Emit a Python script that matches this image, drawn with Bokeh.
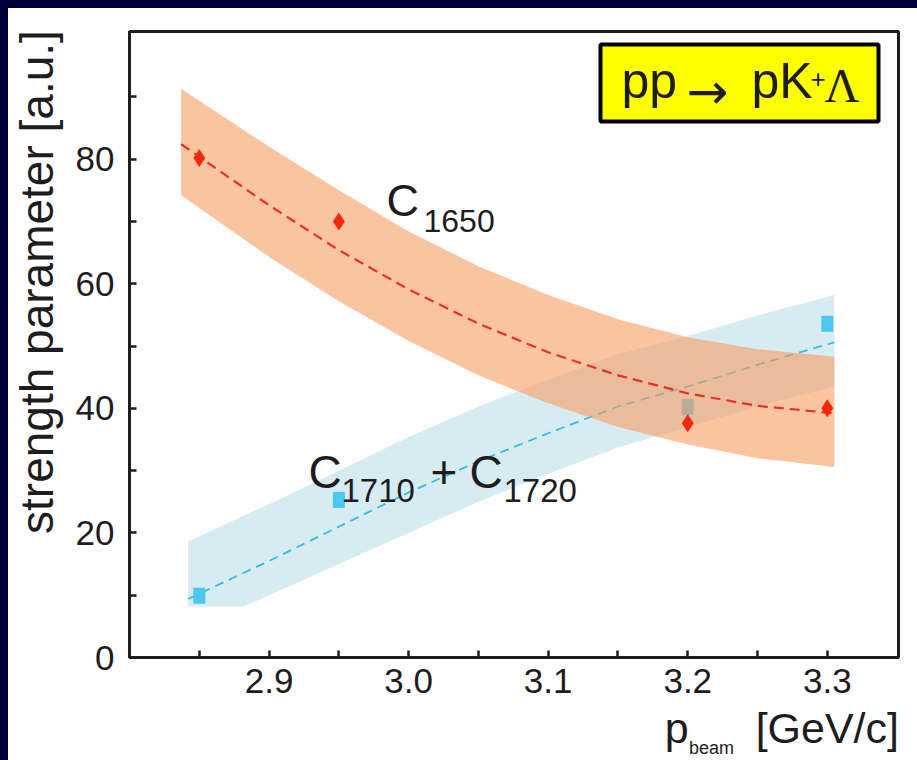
from bokeh.plotting import figure
from bokeh.models import (FixedTicker, Label, BoxAnnotation, Range1d, NumeralTickFormatter,
                          LinearAxis, GlobalInlineStyleSheet)
from bokeh.embed import file_html
from bokeh.resources import INLINE

# measured strength parameters at each beam momentum [GeV/c]
p_beam = [2.85, 2.95, 3.20, 3.30]
c1650 = [80.2, 70.0, 37.6, 40.0]
c1710_1720 = [9.9, 25.3, 40.2, 53.6]

# C1650 trend curve with its uncertainty band
c1650_x = [2.837, 2.90, 2.95, 3.00, 3.05, 3.10, 3.15, 3.20, 3.25, 3.305]
c1650_fit = [82.4, 72.6, 65.4, 59.1, 53.6, 49.0, 45.3, 42.4, 40.4, 39.2]
c1650_hi = [91.3, 82.0, 75.0, 68.4, 62.8, 58.2, 54.3, 51.4, 49.5, 48.3]
c1650_lo = [74.2, 64.3, 57.2, 50.8, 45.3, 40.8, 37.0, 34.2, 32.0, 30.6]

# C1710 + C1720 trend curve with its uncertainty band
c17_x = [2.842, 2.882, 2.90, 2.95, 3.00, 3.05, 3.10, 3.15, 3.20, 3.25, 3.305]
c17_fit = [9.4, 13.6, 15.5, 21.0, 26.5, 31.5, 36.0, 40.3, 43.5, 47.0, 50.6]
c17_hi = [18.6, 22.8, 24.6, 30.0, 35.4, 40.3, 44.6, 48.7, 51.6, 54.9, 58.2]
c17_lo = [8.2, 8.2, 10.0, 15.0, 20.0, 25.0, 29.5, 33.7, 37.0, 40.3, 43.5]

x_ticks = [2.9, 3.0, 3.1, 3.2, 3.3]
x_minor = [2.85, 2.95, 3.05, 3.15, 3.25]
y_ticks = [0, 20, 40, 60, 80]
y_minor = [10, 30, 50, 70, 90]

# axis titles, hung on single-tick helper axes (value = where the text is centred)
y_title = {61.3: "strength parameter  [a.u.]"}
x_title = {3.192: "p", 3.3: "[GeV/c]"}
x_title_sub = {3.217: "beam"}

INK = "#1e1c1d"
SANS = "Liberation Sans"
NAVY = "#00003a"

p = figure(width=909, height=752, output_backend="svg", toolbar_location=None,
           x_range=Range1d(2.80, 3.351), y_range=Range1d(0, 100.5),
           min_border_left=121, min_border_right=19, min_border_top=23, min_border_bottom=101,
           background_fill_color="white", border_fill_color="white")
# white page with a dark slide edge along its left and top
p.stylesheets = [GlobalInlineStyleSheet(css=(
    "html { margin: 0; padding: 0; overflow: hidden; background-color: #ffffff; }"
    f" body {{ margin: 0; padding: 0; overflow: hidden; background-color: #ffffff;"
    f" border-left: 8px solid {NAVY}; border-top: 8px solid {NAVY}; }}"))]
p.grid.visible = False
p.outline_line_color = INK
p.outline_line_width = 3

# bands and trend curves
p.varea(x=c17_x, y1=c17_lo, y2=c17_hi, fill_color="#d6ecf2")
p.line(c17_x, c17_fit, line_color="#35bde0", line_width=1.8, line_dash="9 6")
p.rect(x=p_beam, y=c1710_1720, width=12, height=16, width_units="screen",
       height_units="screen", fill_color="#4ec7ee", line_color=None)

p.varea(x=c1650_x, y1=c1650_lo, y2=c1650_hi, fill_color="#f89d62", fill_alpha=0.6)
p.line(c1650_x, c1650_fit, line_color="#e8302a", line_width=2.2, line_dash="10 6")
p.scatter(x=p_beam, y=c1650, marker="diamond", size=18, fill_color="#f2280c", line_color=None)

# axes
for ax, tk, mn in ((p.xaxis, x_ticks, x_minor), (p.yaxis, y_ticks, y_minor)):
    ax.ticker = FixedTicker(ticks=tk, minor_ticks=mn)
    ax.axis_line_color = INK
    ax.axis_line_width = 3
    ax.major_tick_in = 7
    ax.major_tick_out = 0
    ax.minor_tick_in = 7
    ax.minor_tick_out = 0
    ax.major_tick_line_color = INK
    ax.minor_tick_line_color = INK
    ax.major_tick_line_width = 2.5
    ax.minor_tick_line_width = 2.5
    ax.major_label_text_font = SANS
    ax.major_label_text_font_size = "35px"
    ax.major_label_text_color = INK
p.xaxis.formatter = NumeralTickFormatter(format="0.0")
p.yaxis.formatter = NumeralTickFormatter(format="0")
p.xaxis.major_label_standoff = 11
p.yaxis.major_label_standoff = 15


def title_axis(labels, size, standoff, **kw):
    return LinearAxis(ticker=FixedTicker(ticks=list(labels)), major_label_overrides=labels,
                      axis_line_color=None, major_tick_line_color=None,
                      minor_tick_line_color=None, major_label_standoff=standoff,
                      major_label_text_font=SANS, major_label_text_font_size=f"{size}px",
                      major_label_text_color=INK, **kw)


p.add_layout(title_axis(y_title, 46, 3, major_label_orientation="vertical"), "left")
p.add_layout(title_axis(x_title, 43, 2), "below")
p.add_layout(title_axis(x_title_sub, 18, -23), "below")


def txt(text, x, y, size, font=SANS, **kw):
    # x, y: pixels from the frame's left / bottom edge
    p.add_layout(Label(text=text, x=x, y=y, x_units="screen", y_units="screen",
                       text_font=font, text_font_size=f"{size}px", text_color=INK,
                       text_baseline="alphabetic", **kw))


# curve names
txt("C", 257, 457, 45)
txt("1650", 294, 437, 32)
txt("C", 179, 186, 46)
txt("1710", 212, 167, 33)
txt("+", 301, 186, 46)
txt("C", 340, 186, 46)
txt("1720", 374, 167, 33)

# reaction box
p.add_layout(BoxAnnotation(left=471, right=749, bottom=536, top=613,
                           left_units="screen", right_units="screen",
                           bottom_units="screen", top_units="screen",
                           fill_color="#ffff00", fill_alpha=1.0,
                           line_color="black", line_alpha=1.0, line_width=4))
txt("pp", 492, 577, 50)
txt("\u2192", 557, 566, 50, font="DejaVu Sans")
txt("pK", 622, 577, 50)
txt("+", 681, 579, 26)
txt("\u039b", 695, 572, 48, font="Liberation Serif")

open("out.html", "w").write(file_html(p, INLINE))
